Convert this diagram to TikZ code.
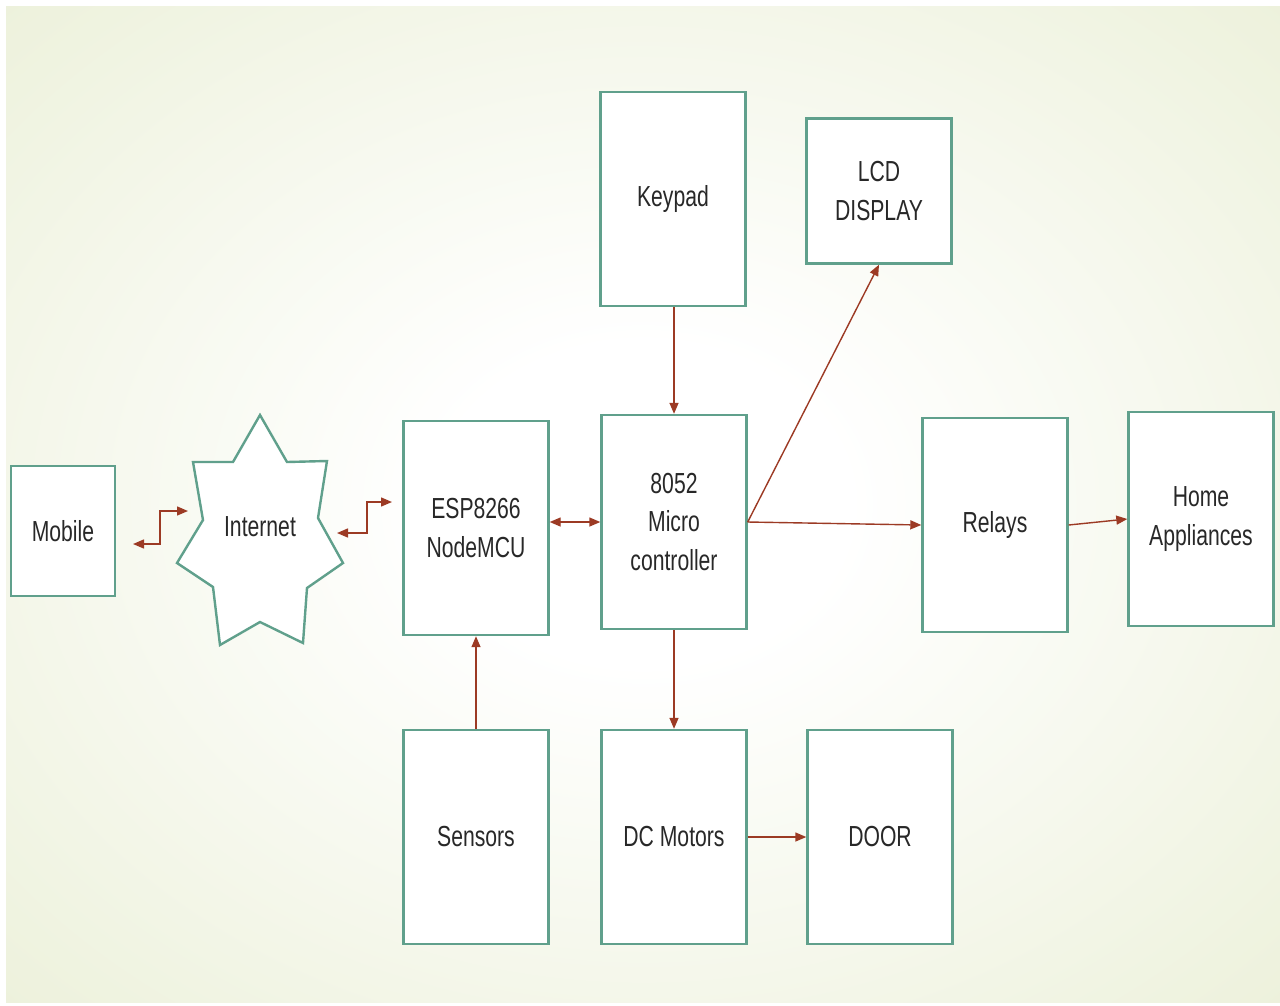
\documentclass[tikz,border=0pt]{standalone}
\usepackage{fontspec}
\setmainfont{Liberation Sans}[FakeStretch=0.73]
\usetikzlibrary{arrows.meta}
\definecolor{boxline}{RGB}{96,160,140}
\definecolor{arrowc}{RGB}{156,58,36}
\definecolor{txtc}{RGB}{40,40,40}
\definecolor{bgout}{RGB}{224,232,196}
\definecolor{bgmid}{RGB}{234,239,214}
\pgfdeclareradialshading{bgshade}{\pgfpoint{0bp}{0bp}}{color(0bp)=(white); color(8bp)=(white); color(40bp)=(bgmid); color(71bp)=(bgout)}

\begin{document}
\begin{tikzpicture}[x=1pt, y=-1pt,
    blk/.style={draw=boxline, fill=white, line width=2.4pt, align=center, text=txtc,
      font=\fontsize{29}{38.5}\selectfont, minimum width=145pt, minimum height=214pt, inner sep=2pt},
    arr/.style={draw=arrowc, line width=1.4pt, -{Triangle[length=11pt,width=9pt]}},
    darr/.style={arr, {Triangle[length=11pt,width=9pt]}-{Triangle[length=11pt,width=9pt]}}]
  \useasboundingbox (0,0) rectangle (1280,1005);
  \fill[white] (0,0) rectangle (1280,1005);
  \shade[shading=bgshade] (6,6) rectangle (1280,1002);

  \node[blk, minimum width=104pt, minimum height=130pt] (mob) at (63,531) {Mobile};
  \draw[draw=boxline, fill=white, line width=2.4pt]
    (260,415) -- (287,462) -- (327,461) -- (318,518) -- (343,563) -- (307,588)
    -- (303,643) -- (260,622) -- (220,645) -- (213,587) -- (177,563) -- (203,520)
    -- (193,462) -- (233,462) -- cycle;
  \node[text=txtc, font=\fontsize{29}{38.5}\selectfont] (inet) at (260,527) {Internet};
  \node[blk] (esp) at (476,528) {ESP8266\\NodeMCU};
  \node[blk] (mcu) at (674,522) {8052\\Micro\\controller};
  \node[blk] (key) at (673,199) {Keypad};
  \node[blk, minimum height=145pt] (lcd) at (879,191) {LCD\\DISPLAY};
  \node[blk] (rel) at (995,525) {Relays};
  \node[blk] (home) at (1201,519) {Home\\Appliances};
  \node[blk] (sens) at (476,837) {Sensors};
  \node[blk] (dcm) at (674,837) {DC Motors};
  \node[blk] (door) at (880,837) {DOOR};

  \coordinate (mi1) at (133,544);
  \coordinate (mi2) at (160,511);
  \coordinate (mi3) at (188,511);
  \coordinate (ie1) at (337,533);
  \coordinate (ie2) at (367,502);
  \coordinate (ie3) at (392,502);
  \draw[darr] (mi1) -| (mi2) -- (mi3);
  \draw[darr] (ie1) -| (ie2) -- (ie3);

  \draw[darr] (mcu.west -| esp.east) -- (mcu.west);
  \draw[arr] (key.south -| mcu.north) -- (mcu.north);
  \draw[arr] (mcu.east) -- (lcd.south);
  \draw[arr] (mcu.east) -- (rel.west);
  \draw[arr] (rel.east) -- (home.west);
  \draw[arr] (mcu.south) -- (dcm.north);
  \draw[arr] (dcm.east) -- (door.west);
  \draw[arr] (sens.north) -- (esp.south);
\end{tikzpicture}
\end{document}
